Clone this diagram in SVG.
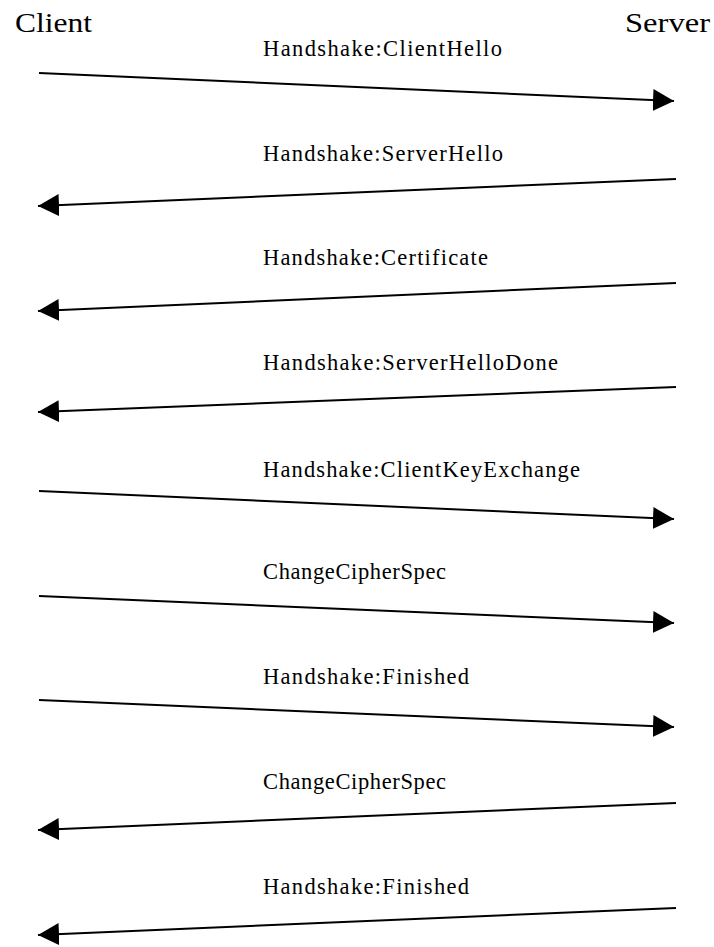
<svg xmlns="http://www.w3.org/2000/svg" width="714" height="947" viewBox="0 0 714 947">
  <style>
    .actor { font-family: "Liberation Serif", "Times New Roman", serif; font-size: 27px; fill: #000; }
    .msg { font-family: "Liberation Serif", "Times New Roman", serif; font-size: 22.5px; fill: #000; }
    .flow { stroke: #000; stroke-width: 2; fill: none; marker-end: url(#head); }
  </style>
  <defs>
    <marker id="head" markerUnits="userSpaceOnUse" markerWidth="22" markerHeight="24" refX="21" refY="11" orient="auto">
      <path d="M0,0 L21,11 L0,22 Z" fill="#000"/>
    </marker>
  </defs>
  <rect width="714" height="947" fill="#fff"/>

  <g id="client">
    <text class="actor" x="15" y="32" textLength="77" lengthAdjust="spacingAndGlyphs">Client</text>
  </g>
  <g id="server">
    <text class="actor" x="625" y="32" textLength="85" lengthAdjust="spacingAndGlyphs">Server</text>
  </g>

  <g id="labels">
    <text class="msg" x="263" y="56" textLength="239" lengthAdjust="spacing">Handshake:ClientHello</text>
    <text class="msg" x="263" y="161" textLength="240" lengthAdjust="spacing">Handshake:ServerHello</text>
    <text class="msg" x="263" y="265" textLength="225" lengthAdjust="spacing">Handshake:Certificate</text>
    <text class="msg" x="263" y="370" textLength="295" lengthAdjust="spacing">Handshake:ServerHelloDone</text>
    <text class="msg" x="263" y="477" textLength="317" lengthAdjust="spacing">Handshake:ClientKeyExchange</text>
    <text class="msg" x="263" y="579" textLength="183" lengthAdjust="spacing">ChangeCipherSpec</text>
    <text class="msg" x="263" y="684" textLength="206" lengthAdjust="spacing">Handshake:Finished</text>
    <text class="msg" x="263" y="789" textLength="183" lengthAdjust="spacing">ChangeCipherSpec</text>
    <text class="msg" x="263" y="894" textLength="206" lengthAdjust="spacing">Handshake:Finished</text>
  </g>

  <g id="connectors">
    <line class="flow" x1="39" y1="73" x2="674" y2="101"/>
    <line class="flow" x1="676" y1="179" x2="38" y2="206"/>
    <line class="flow" x1="676" y1="283" x2="38" y2="311"/>
    <line class="flow" x1="676" y1="387" x2="38" y2="412"/>
    <line class="flow" x1="39" y1="491" x2="674" y2="519"/>
    <line class="flow" x1="39" y1="596" x2="674" y2="623"/>
    <line class="flow" x1="39" y1="700" x2="674" y2="727"/>
    <line class="flow" x1="676" y1="803" x2="38" y2="830"/>
    <line class="flow" x1="676" y1="908" x2="38" y2="935"/>
  </g>
</svg>
